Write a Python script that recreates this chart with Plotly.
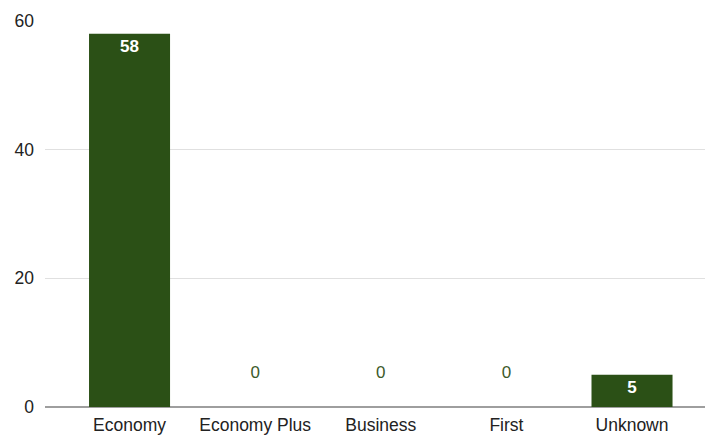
import plotly.graph_objects as go

categories = ["Economy", "Economy Plus", "Business", "First", "Unknown"]
values = [58, 0, 0, 0, 5]
y_ticks = [0, 20, 40, 60]

bar_color = "#2b5016"
inside_color = "#ffffff"
outside_color = "#3d5a2a"

text_pos = ["inside" if v > 0 else "outside" for v in values]
text_colors = [inside_color if v > 0 else outside_color for v in values]
text_labels = [f"<b>{v}</b>" if v > 0 else f"{v}<br> " for v in values]

fig = go.Figure(go.Bar(
    x=categories,
    y=values,
    marker=dict(color=bar_color, line=dict(width=0)),
    width=0.645,
    text=text_labels,
    textposition=text_pos,
    insidetextanchor="end",
    textfont=dict(color=text_colors, size=17, family="Liberation Sans"),
    cliponaxis=False,
    constraintext="none",
    hoverinfo="x+y",
))

fig.update_layout(
    width=705, height=436,
    margin=dict(l=45, r=0, t=21, b=29),
    paper_bgcolor="white",
    plot_bgcolor="white",
    showlegend=False,
    font=dict(family="Liberation Sans, Arial, sans-serif", size=17.5, color="#222222"),
    uniformtext=dict(mode=False),
)
fig.update_xaxes(
    range=[-0.673, 4.581],
    showgrid=False,
    showline=False,
    ticks="",
    ticklabelstandoff=5,
    tickfont=dict(size=17.5, color="#222222"),
)
fig.update_yaxes(
    range=[0, 60],
    tickvals=y_ticks,
    showgrid=True,
    gridcolor="#e0e0e0",
    gridwidth=1,
    zeroline=True,
    zerolinecolor="#9e9e9e",
    zerolinewidth=1.5,
    showline=False,
    ticks="",
    ticklabelstandoff=10,
    tickfont=dict(size=17.5, color="#222222"),
)

fig.write_html(
    "out.html",
    config={"displayModeBar": False},
    post_script="document.body.style.margin='0';document.body.style.overflow='hidden';",
)
